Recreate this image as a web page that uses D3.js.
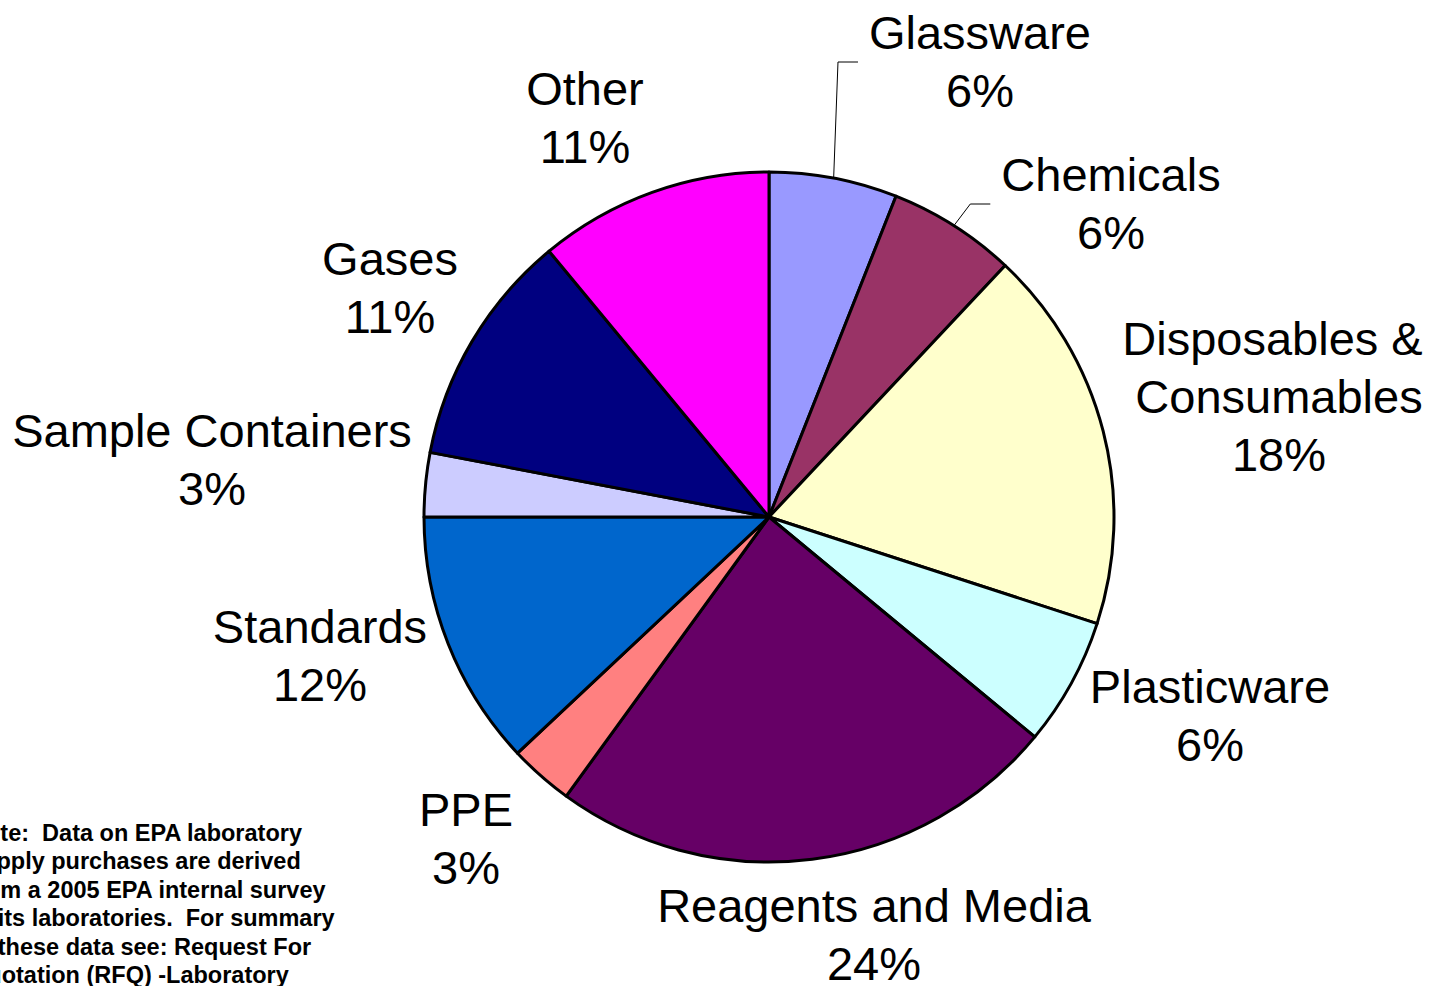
<!DOCTYPE html>
<html>
<head>
<meta charset="utf-8">
<script src="https://cdn.jsdelivr.net/npm/d3@7"></script>
<style>
  html, body { margin: 0; padding: 0; background: #fff; overflow: hidden; }
  svg { display: block; }
  text { font-family: Arial, "Liberation Sans", sans-serif; white-space: pre; }
</style>
</head>
<body>
<svg id="chart" width="1429" height="986"></svg>
<script>
// Laboratory supply purchases by category (percent of total)
const categories = ["Glassware", "Chemicals", "Disposables & Consumables", "Plasticware",
  "Reagents and Media", "PPE", "Standards", "Sample Containers", "Gases", "Other"];
const shares = [6, 6, 18, 6, 24, 3, 12, 3, 11, 11];
const colors = ["#9999FF", "#993366", "#FFFFCC", "#CCFFFF", "#660066",
  "#FF8080", "#0066CC", "#CCCCFF", "#000080", "#FF00FF"];
// Category names as they are broken over lines in the labels
const labelLines = [["Glassware"], ["Chemicals"], ["Disposables & ", "Consumables"], ["Plasticware"],
  ["Reagents and Media"], ["PPE"], ["Standards"], ["Sample Containers"], ["Gases"], ["Other"]];
const noteLines = [
  "Note:  Data on EPA laboratory",
  "supply purchases are derived",
  "from a 2005 EPA internal survey",
  "of its laboratories.  For summary",
  "of these data see: Request For",
  "Quotation (RFQ) -Laboratory"
];

// Layout
const cx = 769, cy = 517, radius = 345;
const fontSize = 47, lineGap = 58;
// label anchor: centre x and first baseline, plus whether a leader line is drawn
const labelAnchor = [
  {x: 980, y: 49, leader: true},
  {x: 1111, y: 191, leader: true},
  {x: 1279, y: 355},
  {x: 1210, y: 703},
  {x: 874, y: 922},
  {x: 466, y: 826},
  {x: 320, y: 643},
  {x: 212, y: 447},
  {x: 390, y: 275},
  {x: 585, y: 105}
];

const svg = d3.select("#chart");
const data = categories.map((c, i) => ({name: c, value: shares[i], i}));
const total = d3.sum(shares);

const pie = d3.pie().sort(null).value(d => d.value).startAngle(0).endAngle(2 * Math.PI);
const arc = d3.arc().innerRadius(0).outerRadius(radius);
const rimArc = d3.arc().innerRadius(radius).outerRadius(radius);
const arcs = pie(data);

const g = svg.append("g").attr("transform", `translate(${cx},${cy})`);
g.selectAll("path.slice")
  .data(arcs)
  .join("path")
  .attr("class", "slice")
  .attr("d", arc)
  .attr("fill", d => colors[d.data.i])
  .attr("stroke", "#000")
  .attr("stroke-width", 3)
  .attr("stroke-linejoin", "round");

// Labels
const fmt = v => Math.round(v / total * 100) + "%";
arcs.forEach(d => {
  const a = labelAnchor[d.data.i];
  const lines = labelLines[d.data.i].concat([fmt(d.data.value)]);
  const t = svg.append("text")
    .attr("text-anchor", "middle")
    .attr("font-size", fontSize)
    .attr("fill", "#000");
  lines.forEach((ln, k) => {
    const ts = t.append("tspan").attr("x", a.x).attr("y", a.y + k * lineGap).text(ln);
    // a trailing space keeps its share of the centring but is not drawn
    const trimmed = ln.replace(/\s+$/, "");
    if (trimmed !== ln) {
      const full = ts.node().getComputedTextLength();
      ts.text(trimmed);
      const shift = (full - ts.node().getComputedTextLength()) / 2;
      ts.attr("dx", -shift);
    }
  });
  if (a.leader) {
    const firstWidth = t.select("tspan").node().getComputedTextLength();
    const endX = a.x - firstWidth / 2 - 11;
    const endY = a.y + 13;
    const [px, py] = rimArc.centroid(d);
    svg.append("polyline")
      .attr("points", [[cx + px, cy + py], [endX - 20, endY], [endX, endY]].map(p => p.join(",")).join(" "))
      .attr("fill", "none")
      .attr("stroke", "#000")
      .attr("stroke-width", 1);
  }
});

// Footnote
const note = svg.append("text")
  .attr("font-size", 23.5)
  .attr("font-weight", "bold")
  .attr("fill", "#000");
noteLines.forEach((ln, k) => {
  note.append("tspan").attr("x", -31).attr("y", 841 + k * 28.4).text(ln);
});
</script>
</body>
</html>
